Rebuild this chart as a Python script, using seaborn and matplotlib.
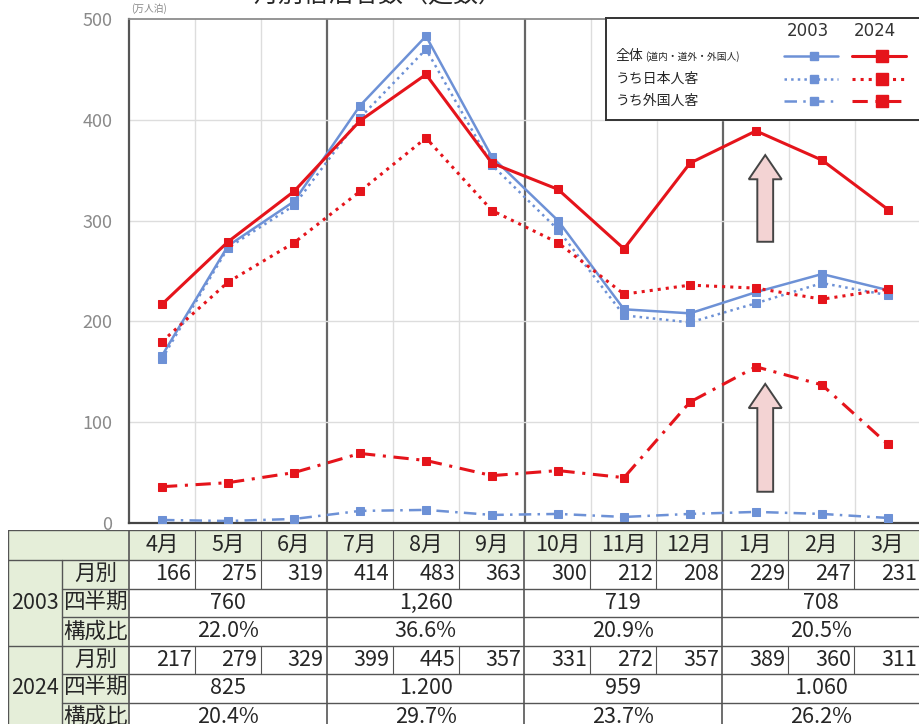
import matplotlib
matplotlib.use("Agg")
import matplotlib.pyplot as plt
from matplotlib.patches import Rectangle
import pandas as pd
import seaborn as sns

# --- data (万人泊) ---
months = ["4月", "5月", "6月", "7月", "8月", "9月", "10月", "11月", "12月", "1月", "2月", "3月"]
total_2003 = [166, 275, 319, 414, 483, 363, 300, 212, 208, 229, 247, 231]
japan_2003 = [163, 273, 315, 402, 470, 355, 291, 206, 199, 218, 238, 226]
foreign_2003 = [3, 2, 4, 12, 13, 8, 9, 6, 9, 11, 9, 5]
total_2024 = [217, 279, 329, 399, 445, 357, 331, 272, 357, 389, 360, 311]
japan_2024 = [180, 239, 278, 329, 382, 310, 278, 227, 236, 233, 222, 232]
foreign_2024 = [36, 40, 50, 69, 62, 47, 52, 45, 120, 155, 137, 78]

quarter_2003 = ["760", "1,260", "719", "708"]
share_2003 = ["22.0%", "36.6%", "20.9%", "20.5%"]
quarter_2024 = ["825", "1.200", "959", "1.060"]
share_2024 = ["20.4%", "29.7%", "23.7%", "26.2%"]

series_labels = ["全体", "うち日本人客", "うち外国人客"]

BLUE = "#6d91d6"
RED = "#e5141b"
GREEN = "#e5eed9"
EDGE = "#555555"

sns.set_theme(style="white")
plt.rcParams["font.family"] = ["Noto Sans CJK JP", "DejaVu Sans"]

df = pd.DataFrame({"m": range(len(months))})

fig = plt.figure(figsize=(9.2, 7.24), dpi=100)
ax = fig.add_axes([129 / 920, 201 / 724, 792 / 920, 504 / 724])

dashdot = (0, (5, 2.5, 1, 2.5))
styles = [
    (total_2003, BLUE, "-", 1.8), (japan_2003, BLUE, ":", 1.8), (foreign_2003, BLUE, dashdot, 1.8),
    (total_2024, RED, "-", 2.2), (japan_2024, RED, ":", 2.2), (foreign_2024, RED, dashdot, 2.2),
]
for vals, col, ls, lw in styles:
    sns.lineplot(x=df["m"], y=vals, ax=ax, color=col, linestyle=ls, linewidth=lw,
                 marker="s", markersize=6, markeredgecolor=col, markerfacecolor=col,
                 zorder=4 if col == RED else 3)

ax.set_xlim(-0.5, 11.5)
ax.set_ylim(0, 500)
ax.set_yticks(range(0, 501, 100))
ax.set_xticks([])
ax.set_xlabel("")
ax.set_ylabel("")
ax.tick_params(axis="y", length=0, pad=12, labelsize=13, labelcolor="#8a8a8a")
for i in range(1, 12):
    if i % 3 == 0:
        ax.axvline(i - 0.5, color="#666666", lw=1.6, zorder=1)
    else:
        ax.axvline(i - 0.5, color="#dddddd", lw=1.0, zorder=1)
for y in range(100, 500, 100):
    ax.axhline(y, color="#dddddd", lw=1.0, zorder=1)
ax.spines["left"].set_color("#555555")
ax.spines["left"].set_linewidth(1.6)
ax.spines["bottom"].set_color("#444444")
ax.spines["bottom"].set_linewidth(1.6)
ax.spines["top"].set_color("#888888")
ax.spines["right"].set_visible(False)

# arrows highlighting January growth
for y0, y1 in [(279, 365), (31, 138)]:
    ax.arrow(9.14, y0, 0, y1 - y0, width=0.24, head_width=0.5, head_length=24,
             length_includes_head=True, facecolor="#f3d3d3", edgecolor="#444444",
             linewidth=1.4, zorder=5)

fig.text(0.411, 0.988, "月別宿泊者数（延数）", ha="center", va="bottom", fontsize=18)
fig.text(0.162, 0.988, "(万人泊)", ha="center", va="center", fontsize=7, color="#888888")

# --- legend box ---
lg = fig.add_axes([606 / 920, 1 - 120 / 724, 314 / 920, 102 / 724], zorder=6)
lg.set_xlim(0, 314)
lg.set_ylim(102, 0)
lg.set_xticks([])
lg.set_yticks([])
lg.set_facecolor("white")
for s in lg.spines.values():
    s.set_color("#333333")
    s.set_linewidth(1.4)
lg.text(202, 13, "2003", ha="center", va="center", fontsize=12, family="DejaVu Sans", color="#333333")
lg.text(269, 13, "2024", ha="center", va="center", fontsize=12, family="DejaVu Sans", color="#333333")
row_y = [38, 61, 83]
lg.text(10, row_y[0], series_labels[0], ha="left", va="center", fontsize=10)
lg.text(39, row_y[0] + 1, "(道内・道外・外国人)", ha="left", va="center", fontsize=7)
lg.text(10, row_y[1], series_labels[1], ha="left", va="center", fontsize=10)
lg.text(10, row_y[2], series_labels[2], ha="left", va="center", fontsize=10)
for r, ls in enumerate(["-", ":", dashdot]):
    lg.plot([178, 232], [row_y[r]] * 2, color=BLUE, linestyle=ls, lw=1.8)
    lg.plot([208], [row_y[r]], color=BLUE, marker="s", markersize=6)
    lg.plot([246, 300], [row_y[r]] * 2, color=RED, linestyle=ls, lw=2.2)
    lg.plot([276], [row_y[r]], color=RED, marker="s", markersize=8)

# --- table ---
tb = fig.add_axes([8 / 920, (724 - 731) / 724, 912 / 920, 201 / 724])
x_left = -0.5 - 121 / 66
x_year = -0.5 - 67 / 66
tb.set_xlim(x_left, 11.5)
tb.set_ylim(201, 0)
tb.axis("off")
rows = [0, 30, 58.5, 87, 115.5, 144, 172.5, 201]

tb.add_patch(Rectangle((x_left, 0), 11.5 - x_left, 30, facecolor=GREEN, edgecolor="none"))
tb.add_patch(Rectangle((x_left, 30), -0.5 - x_left, 171, facecolor=GREEN, edgecolor="none"))

lc = EDGE
for i, y in enumerate(rows):
    start = x_left if y in (0, 30, 115.5, 201) else x_year
    tb.plot([start, 11.5], [y, y], color=lc, lw=1.0)
tb.plot([x_left, x_left], [0, 201], color=lc, lw=1.0)
tb.plot([x_year, x_year], [30, 201], color=lc, lw=1.0)
for b in [-0.5, 2.5, 5.5, 8.5]:
    tb.plot([b, b], [0, 201], color=lc, lw=1.2)
for i in range(12):
    if (i + 1) % 3 != 0:
        b = i + 0.5
        for y0, y1 in [(0, 30), (30, 58.5), (115.5, 144)]:
            tb.plot([b, b], [y0, y1], color=lc, lw=0.8)

fs = 15.5
for i, m in enumerate(months):
    tb.text(i, 15, m, ha="center", va="center", fontsize=fs)
for base, year, vals, qv, sh in [(30, "2003", total_2003, quarter_2003, share_2003),
                                 (115.5, "2024", total_2024, quarter_2024, share_2024)]:
    tb.text((x_left + x_year) / 2, base + 42.75, year, ha="center", va="center", fontsize=fs)
    for k, lab in enumerate(["月別", "四半期", "構成比"]):
        tb.text((x_year - 0.5) / 2, base + 14.25 + 28.5 * k, lab, ha="center", va="center", fontsize=fs)
    for i, v in enumerate(vals):
        tb.text(i + 0.45, base + 14.25, str(v), ha="right", va="center", fontsize=fs)
    for q in range(4):
        tb.text(3 * q + 1, base + 42.75, qv[q], ha="center", va="center", fontsize=fs)
        tb.text(3 * q + 1, base + 71.25, sh[q], ha="center", va="center", fontsize=fs)

fig.savefig("out.png", dpi=100)
